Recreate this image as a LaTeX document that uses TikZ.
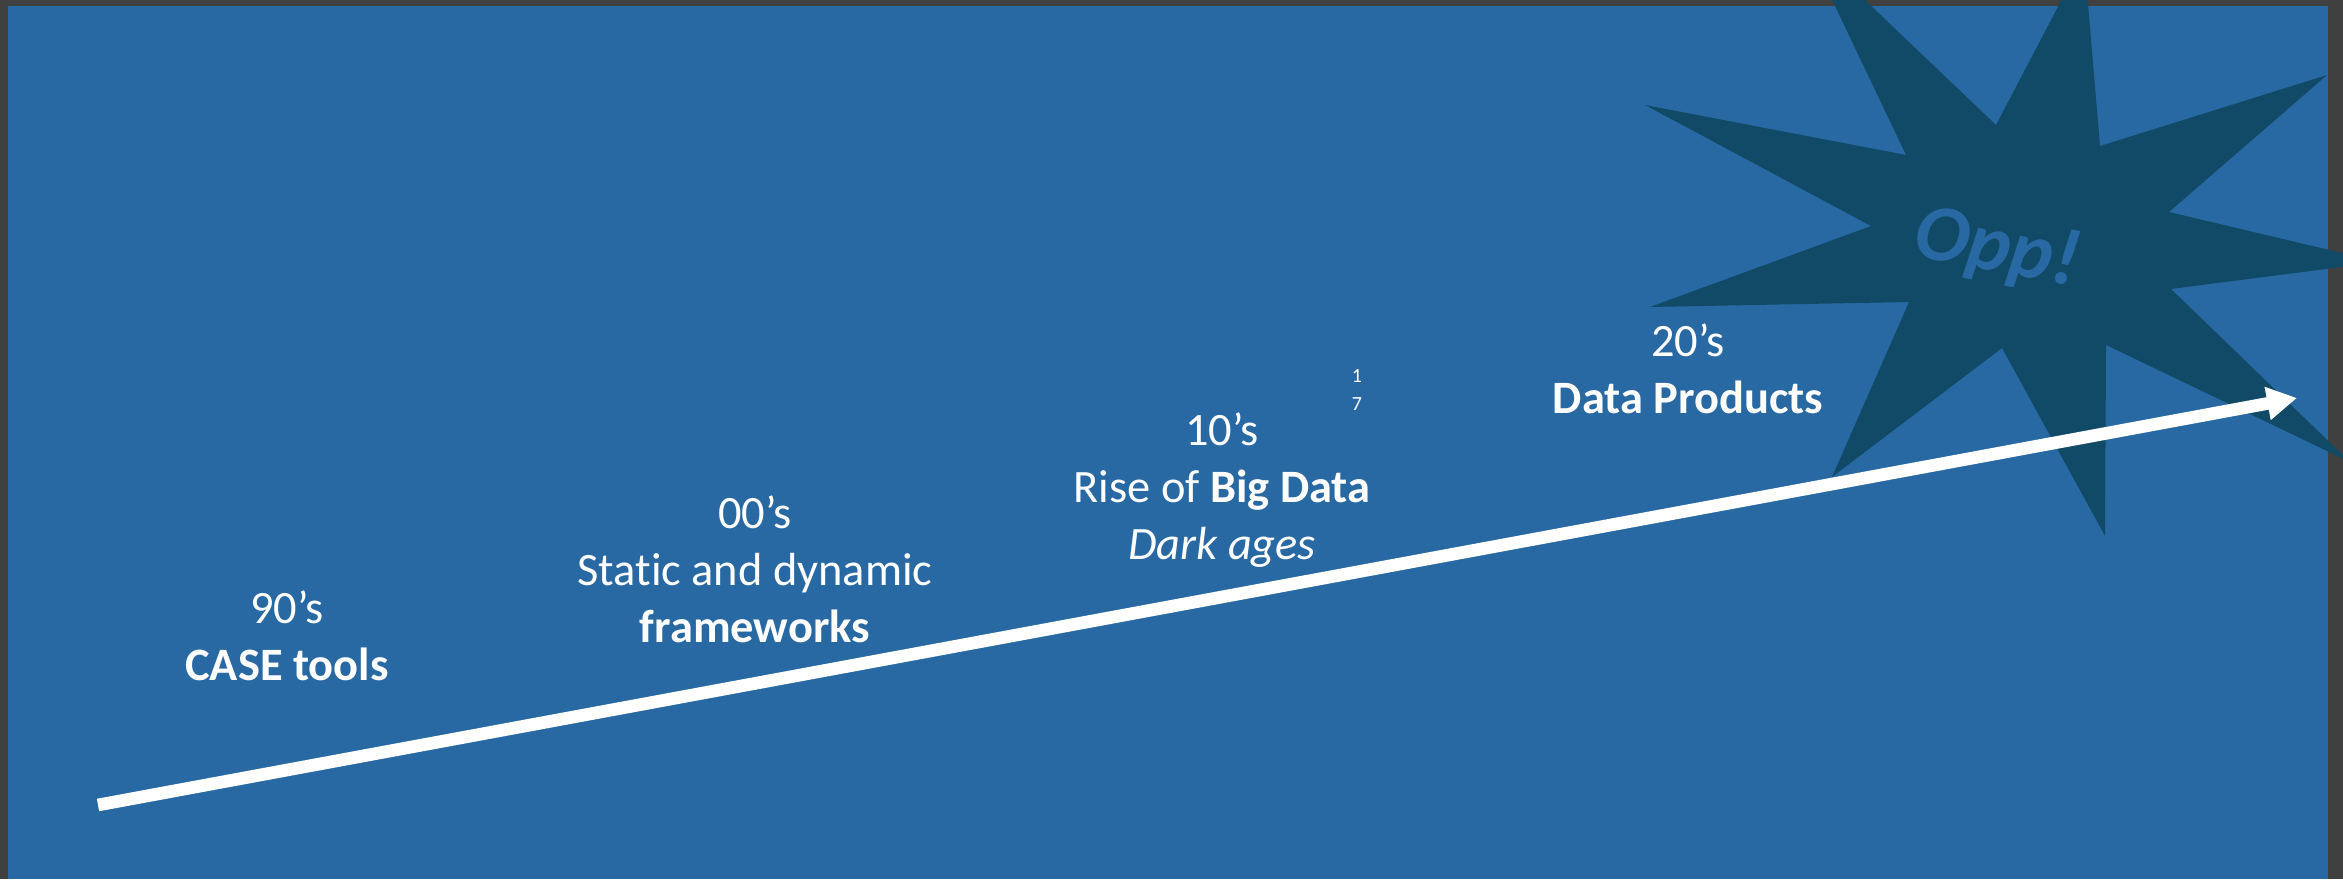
\documentclass[tikz,border=0pt]{standalone}
\usepackage{fontspec}
\setmainfont{Carlito}[Ligatures={NoCommon}]
\usetikzlibrary{arrows.meta,positioning}
\definecolor{fondo}{RGB}{40,105,164}
\definecolor{estrellaosc}{RGB}{17,74,102}
\definecolor{marco}{RGB}{64,64,64}

\begin{document}
\begin{tikzpicture}[
            x=0.01cm, y=-0.01cm,
            decada/.style={text=white, align=center, inner sep=0pt, anchor=north, font=\fontsize{13.2}{16.2}\selectfont},
            nota/.style={text=white, align=center, inner sep=0pt, anchor=north, font=\fontsize{5.7}{8}\selectfont},
            flecha/.style={-{Triangle[length=8.5pt,width=9pt]}, line width=3.6pt, white}
        ]

        % Marco gris y fondo azul
        \useasboundingbox (0,0) rectangle (2343,879);
        \fill[marco] (0,0) rectangle (2343,879);
        \fill[fondo] (8,6) rectangle (2328,879);

        % Estrella oscura arriba a la derecha (recortada al lienzo)
        \begin{scope}
            \clip (0,0) rectangle (2343,879);
            \fill[estrellaosc] (1805,-57) -- (1996,125) -- (2084,-43) -- (2100,146) -- (2327,75)
                -- (2169,212) -- (2380,262) -- (2171,289) -- (2350,462) -- (2106,345)
                -- (2105,536) -- (2002,348) -- (1832,477) -- (1909,302) -- (1650,307)
                -- (1871,226) -- (1645,105) -- (1906,155) -- cycle;
        \end{scope}
        \node[font=\fontsize{23}{27}\selectfont\bfseries\itshape, text=fondo, rotate=-11] (opp) at (1997,250) {Opp!};

        % Linea de tiempo
        \coordinate (inicio) at (98,805);
        \coordinate (fin) at (2297,398);
        \draw[flecha] (inicio) -- (fin);

        % Decadas
        \node[decada] (d90) at (287,590) {90’s\\\textbf{CASE tools}};
        \node[decada] (d00) at (755,495) {00’s\\Static and dynamic\\\textbf{frameworks}};
        \node[decada] (d10) at (1222,412) {10’s\\Rise of \textbf{Big Data}\\\textit{Dark ages}};
        \node[decada] (d20) at (1688,323) {20’s\\\textbf{Data Products}};

        % Numero de pagina pequeno
        \node[nota] (pag) at (1357,369) {1\\7};

    \end{tikzpicture}
\end{document}
